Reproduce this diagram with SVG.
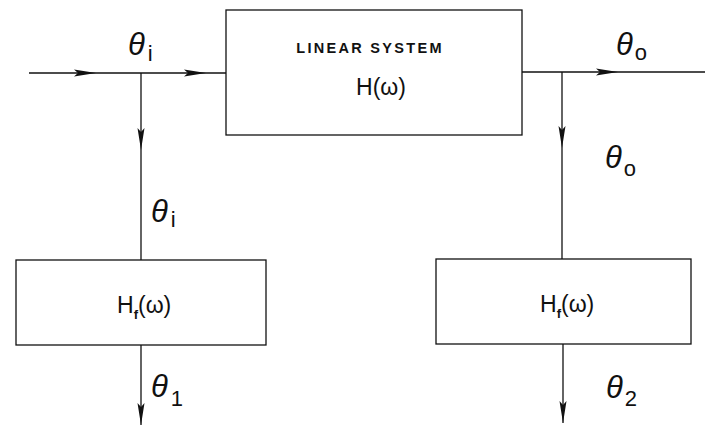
<svg xmlns="http://www.w3.org/2000/svg" xmlns:xlink="http://www.w3.org/1999/xlink" width="705" height="426" viewBox="0 0 705 426">
<style>
.box{fill:#fff;stroke:#111;stroke-width:1.3}
.ln{fill:none;stroke:#111;stroke-width:1.3}
.t{font-family:"Liberation Sans",Arial,sans-serif;fill:#111}
.th{font-family:"Liberation Sans",Arial,sans-serif;font-style:italic;font-size:31px;fill:#111}
.sub{font-family:"Liberation Sans",Arial,sans-serif;font-size:22px;fill:#111}
</style>
<defs>
<path id="ah" d="M0,0 L-22,-3.5 L-18,0 L-22,3.5 Z" fill="#111"/>
</defs>
<rect width="705" height="426" fill="#fff"/>
<g id="connectors">
<line class="ln" x1="29" y1="73" x2="226" y2="73"/>
<line class="ln" x1="141" y1="73" x2="141" y2="260"/>
<line class="ln" x1="141" y1="345" x2="141" y2="425"/>
<line class="ln" x1="522" y1="72" x2="705" y2="72"/>
<line class="ln" x1="562" y1="72" x2="562" y2="259"/>
<line class="ln" x1="563" y1="344" x2="563" y2="423"/>
<use xlink:href="#ah" transform="translate(96,73)"/>
<use xlink:href="#ah" transform="translate(206,73)"/>
<use xlink:href="#ah" transform="translate(618,72)"/>
<use xlink:href="#ah" transform="translate(141,150) rotate(90)"/>
<use xlink:href="#ah" transform="translate(562,148) rotate(90)"/>
<use xlink:href="#ah" transform="translate(141,425) rotate(90)"/>
<use xlink:href="#ah" transform="translate(563,423) rotate(90)"/>
</g>
<g id="linear-system">
<rect class="box" x="226" y="10" width="296" height="125"/>
<text class="t" x="370" y="53" font-size="14.5" font-weight="bold" letter-spacing="2.3" text-anchor="middle">LINEAR SYSTEM</text>
<text class="t" x="381" y="95" font-size="23" text-anchor="middle">H(ω)</text>
</g>
<g id="filter-left">
<rect class="box" x="16" y="260" width="250" height="85"/>
<text class="t" x="117" y="313" font-size="23">H<tspan font-size="13" dy="6" font-weight="bold">f</tspan><tspan dy="-6">(ω)</tspan></text>
</g>
<g id="filter-right">
<rect class="box" x="436" y="259" width="255" height="85"/>
<text class="t" x="540" y="312" font-size="23">H<tspan font-size="13" dy="6" font-weight="bold">f</tspan><tspan dy="-6">(ω)</tspan></text>
</g>
<g id="labels">
<text class="th" x="128" y="55">θ<tspan class="sub" font-style="normal" dx="3" dy="6">i</tspan></text>
<text class="th" x="151" y="222">θ<tspan class="sub" font-style="normal" dx="3" dy="5">i</tspan></text>
<text class="th" x="151" y="397">θ<tspan class="sub" font-style="normal" dx="3" dy="9">1</tspan></text>
<text class="th" x="616" y="55">θ<tspan class="sub" font-style="normal" dx="2" dy="5">o</tspan></text>
<text class="th" x="605" y="168">θ<tspan class="sub" font-style="normal" dx="2" dy="8">o</tspan></text>
<text class="th" x="606" y="398">θ<tspan class="sub" font-style="normal" dx="2" dy="8">2</tspan></text>
</g>
</svg>
